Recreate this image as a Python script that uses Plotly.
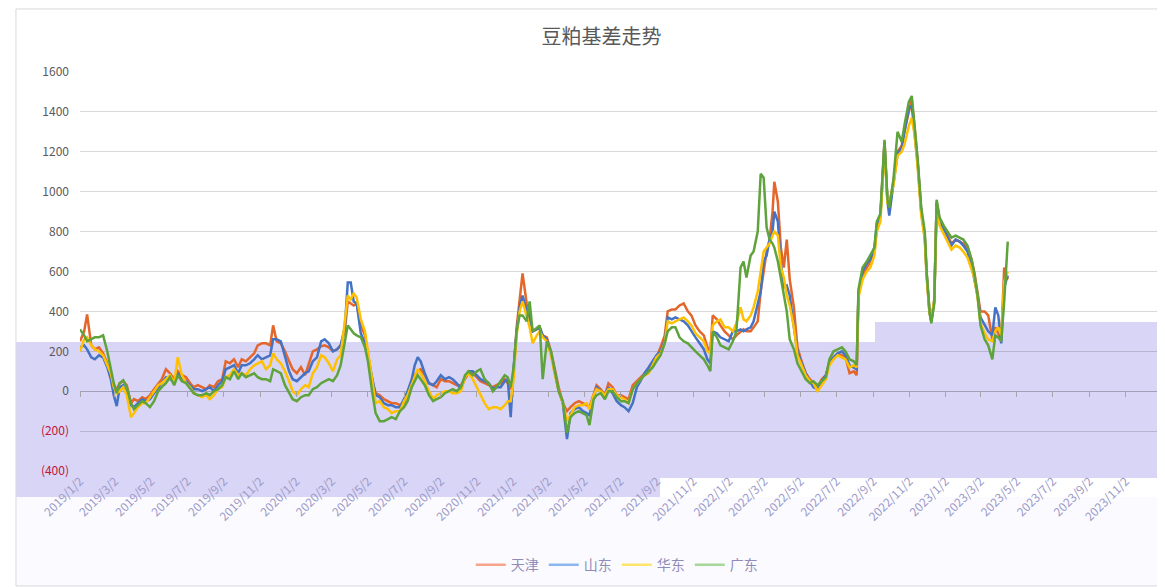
import pandas as pd
import plotly.graph_objects as go

# trading-day offsets from 2019/1/2 and basis values (yuan/ton)
start = pd.Timestamp("2019-01-02")
day_offsets = [
    0, 7, 12, 19, 25, 32, 39, 46, 52, 57, 62, 67, 73, 79, 86, 91, 98, 105, 111, 118,
    125, 132, 138, 145, 152, 159, 165, 172, 179, 186, 192, 199, 206, 213, 219, 226, 233, 240, 246, 253,
    260, 267, 273, 280, 287, 294, 300, 307, 314, 321, 326, 332, 339, 346, 353, 359, 366, 373, 380, 386,
    393, 400, 407, 413, 420, 427, 434, 440, 447, 452, 457, 462, 467, 474, 481, 486, 493, 499, 506, 513,
    520, 526, 533, 540, 547, 553, 560, 565, 570, 575, 582, 589, 596, 602, 609, 616, 623, 629, 636, 643,
    650, 656, 663, 670, 676, 683, 690, 697, 703, 710, 717, 722, 727, 732, 737, 742, 747, 754, 759, 764,
    771, 776, 781, 788, 795, 801, 808, 815, 822, 828, 835, 842, 849, 855, 860, 867, 872, 879, 886, 892,
    899, 906, 913, 919, 926, 933, 940, 946, 953, 960, 967, 973, 980, 987, 992, 999, 1005, 1012, 1019, 1026,
    1032, 1039, 1046, 1053, 1059, 1064, 1068, 1075, 1081, 1088, 1095, 1102, 1108, 1115, 1120, 1125, 1132, 1137, 1144, 1149,
    1154, 1159, 1164, 1169, 1172, 1178, 1183, 1188, 1193, 1198, 1205, 1211, 1218, 1225, 1232, 1238, 1245, 1252, 1259, 1265,
    1272, 1279, 1286, 1292, 1299, 1306, 1311, 1314, 1321, 1328, 1334, 1341, 1345, 1351, 1358, 1363, 1366, 1373, 1380, 1387,
    1392, 1399, 1404, 1409, 1414, 1420, 1426, 1429, 1434, 1437, 1442, 1446, 1451, 1458, 1464, 1471, 1478, 1485, 1491, 1498,
    1505, 1510, 1515, 1520, 1527, 1533, 1540, 1545, 1550, 1555, 1560, 1566,
]

tianjin = [
    250, 300, 385, 230, 210, 220, 190, 140, 80, 30, 10, 40, 50, 30, -60, -40, -50, -30, -40, -20,
    10, 40, 60, 110, 90, 60, 100, 80, 70, 40, 20, 30, 20, 10, 30, 20, 50, 60, 150, 140,
    160, 120, 160, 150, 170, 190, 230, 240, 240, 230, 330, 250, 240, 200, 150, 110, 90, 120, 80, 140,
    200, 210, 225, 230, 220, 200, 210, 230, 300, 450, 440, 430, 440, 330, 280, 180, 60, -10, -20, -40,
    -50, -60, -60, -70, -60, -20, 40, 80, 100, 110, 80, 40, 30, 20, 60, 50, 50, 40, 30, 30,
    60, 90, 90, 70, 50, 40, 30, 20, 30, 40, 60, 40, 10, 100, 320, 450, 590, 440, 360, 300,
    310, 320, 280, 270, 200, 110, 20, -60, -100, -80, -60, -50, -60, -70, -80, -10, 30, 10, -20, 40,
    20, -20, -20, -30, -40, 30, 50, 70, 90, 110, 140, 170, 220, 280, 400, 410, 410, 430, 440, 400,
    380, 330, 300, 280, 220, 200, 380, 360, 330, 300, 280, 260, 280, 300, 310, 300, 300, 320, 350, 500,
    600, 700, 760, 900, 1050, 950, 720, 620, 760, 560, 420, 220, 150, 90, 60, 40, 20, 60, 80, 150,
    170, 190, 180, 170, 90, 100, 80, 480, 580, 620, 650, 700, 820, 880, 1250, 950, 920, 1050, 1200, 1230,
    1310, 1400, 1460, 1320, 1150, 900, 780, 600, 400, 350, 450, 950, 860, 820, 780, 740, 760, 750, 740, 720,
    660, 590, 500, 400, 400, 380, 260, 320, 290, 260, 620, 560,
]

shandong = [
    220, 230, 210, 170, 160, 180, 170, 120, 60, -20, -75, 20, 30, -10, -70, -80, -60, -40, -50, -40,
    -10, 20, 40, 70, 60, 50, 90, 60, 50, 30, 10, 10, 0, 10, 20, 0, 30, 50, 110, 120,
    130, 90, 130, 130, 140, 160, 180, 160, 170, 180, 260, 260, 250, 170, 100, 60, 50, 70, 90, 100,
    150, 170, 250, 260, 240, 200, 210, 230, 320, 545, 545, 450, 440, 290, 240, 170, 60, -20, -30, -60,
    -70, -70, -80, -80, -40, 0, 60, 130, 170, 150, 90, 40, 30, 50, 80, 60, 70, 60, 40, 10,
    70, 100, 100, 80, 60, 50, 40, 10, 20, 20, 50, 60, -130, 120, 300, 420, 480, 400, 380, 300,
    310, 320, 280, 260, 190, 100, 0, -60, -240, -110, -90, -80, -100, -110, -120, -30, 20, 0, -30, 20,
    -10, -50, -70, -80, -100, -60, 20, 50, 90, 120, 150, 180, 200, 250, 370, 360, 370, 360, 350, 330,
    300, 270, 240, 210, 160, 140, 300, 290, 270, 260, 250, 300, 300, 310, 300, 310, 320, 350, 430, 500,
    650, 680, 760, 800, 900, 850, 640, 520, 530, 480, 320, 200, 140, 90, 50, 20, 10, 50, 80, 140,
    170, 190, 200, 180, 130, 120, 110, 490, 600, 640, 660, 720, 840, 870, 1240, 950, 880, 1040, 1190, 1220,
    1300, 1420, 1430, 1300, 1140, 900, 770, 590, 390, 350, 460, 940, 850, 810, 770, 730, 760, 750, 730, 700,
    630, 560, 480, 370, 330, 300, 280, 420, 380, 240, 520, 580,
]

huadong = [
    200, 260, 270, 230, 210, 200, 180, 130, 90, 20, -10, 0, 20, -20, -130, -110, -80, -60, -60, -30,
    0, 30, 40, 60, 80, 40, 170, 80, 40, 20, -10, -20, -30, -20, -40, -20, 10, 20, 70, 80,
    110, 80, 90, 80, 110, 130, 140, 150, 110, 130, 190, 160, 140, 100, 50, 0, -20, 10, 30, 20,
    90, 120, 180, 170, 140, 100, 160, 180, 350, 480, 460, 490, 470, 360, 300, 190, 60, -60, -50, -80,
    -90, -110, -100, -100, -50, -20, 30, 70, 110, 90, 50, 0, -40, -20, -10, 0, 0, -10, -10, 0,
    70, 90, 60, 20, -20, -60, -90, -80, -80, -90, -70, -50, -50, 60, 280, 400, 450, 380, 320, 240,
    280, 300, 270, 250, 180, 90, 0, -60, -150, -120, -80, -70, -70, -60, -90, -20, 10, 0, -20, 10,
    10, -20, -30, -40, -60, 10, 40, 60, 80, 90, 130, 170, 190, 240, 350, 340, 350, 360, 370, 350,
    330, 290, 270, 250, 200, 190, 330, 350, 360, 320, 320, 300, 340, 420, 360, 350, 380, 420, 500, 600,
    700, 720, 740, 780, 800, 780, 620, 570, 480, 430, 320, 180, 130, 80, 50, 40, 0, 30, 60, 130,
    160, 180, 170, 160, 120, 130, 120, 470, 560, 600, 620, 680, 800, 850, 1220, 940, 950, 1030, 1180, 1200,
    1240, 1330, 1370, 1280, 1120, 880, 760, 570, 390, 360, 460, 930, 830, 790, 750, 710, 730, 720, 700, 670,
    610, 560, 470, 340, 290, 260, 250, 300, 320, 280, 550, 600,
]

guangdong = [
    310, 280, 250, 260, 270, 270, 280, 200, 110, 40, -10, 40, 55, 20, -60, -90, -70, -50, -60, -80,
    -50, 0, 20, 40, 70, 30, 80, 50, 40, 10, -10, -20, -20, -10, -20, 0, 10, 30, 70, 60,
    100, 60, 90, 70, 80, 90, 70, 60, 60, 50, 110, 100, 90, 30, -10, -40, -50, -30, -20, -20,
    10, 20, 40, 50, 60, 50, 80, 130, 260, 330, 310, 290, 280, 270, 220, 150, 0, -110, -150, -150,
    -140, -130, -140, -100, -80, -50, 20, 50, 80, 60, 30, -20, -50, -40, -30, -10, 0, 10, 0, 20,
    80, 100, 80, 100, 110, 60, 40, 0, 20, 50, 80, 70, 20, 120, 300, 380, 380, 350, 450, 300,
    320, 330, 60, 250, 200, 100, 0, -50, -210, -130, -110, -100, -110, -120, -170, -40, -20, -10, -40, 0,
    0, -30, -50, -50, -60, 10, 40, 60, 80, 100, 120, 150, 180, 240, 300, 320, 320, 270, 250, 240,
    220, 200, 180, 160, 130, 100, 300, 270, 230, 220, 210, 250, 300, 620, 650, 570, 680, 700, 800, 1090,
    1070, 820, 760, 740, 720, 650, 560, 470, 400, 260, 210, 140, 100, 60, 40, 50, 30, 50, 70, 160,
    200, 210, 220, 200, 160, 150, 130, 510, 620, 650, 680, 720, 850, 890, 1260, 960, 920, 1060, 1300, 1250,
    1340, 1450, 1480, 1330, 1160, 920, 800, 600, 400, 340, 440, 960, 870, 830, 800, 770, 780, 770, 760, 730,
    660, 580, 480, 330, 260, 230, 160, 280, 270, 250, 450, 750,
]

series_names = ["天津", "山东", "华东", "广东"]
series_values = [tianjin, shandong, huadong, guangdong]
line_colors = ["#E4662B", "#4472C4", "#FFC000", "#5FA33C"]
legend_colors = ["#F7A48C", "#8DB6F0", "#FFE46E", "#A9D69B"]

y_ticks = [-400, -200, 0, 200, 400, 600, 800, 1000, 1200, 1400, 1600]
y_labels = ['<span style="color:#C0143C">(400)</span>', '<span style="color:#C0143C">(200)</span>',
            "0", "200", "400", "600", "800", "1000", "1200", "1400", "1600"]

dates = start + pd.to_timedelta(day_offsets, unit="D")
x_ticks = [start + pd.DateOffset(months=2 * i) for i in range(30)]
x_labels = [f"{d.year}/{d.month}/{d.day}" for d in x_ticks]
x_end = pd.Timestamp("2023-12-30")

fig = go.Figure()
for name, vals, col in zip(series_names, series_values, line_colors):
    fig.add_trace(go.Scatter(x=dates, y=vals, mode="lines", name=name,
                             line=dict(color=col, width=2.5), showlegend=False))

# legend entries (the legend swatches look washed out in the original)
for name, col in zip(series_names, legend_colors):
    fig.add_trace(go.Scatter(x=[None], y=[None], mode="lines", name=name,
                             line=dict(color=col, width=2.5)))

# invisible trace so the tick-mark axis on the zero line gets drawn
fig.add_trace(go.Scatter(x=[start, x_end], y=[None, None], xaxis="x2", mode="lines",
                         showlegend=False, hoverinfo="skip"))

lav = "#D9D5F6"
shapes = [
    dict(type="rect", xref="paper", yref="paper", x0=-0.0593, x1=0.537, y0=-0.0652, y1=0.3233,
         fillcolor=lav, line_width=0, layer="below"),
    dict(type="rect", xref="paper", yref="paper", x0=0.537, x1=0.7361, y0=-0.0175, y1=0.3233,
         fillcolor=lav, line_width=0, layer="below"),
    dict(type="rect", xref="paper", yref="paper", x0=0.7361, x1=1.0046, y0=-0.0175, y1=0.3734,
         fillcolor=lav, line_width=0, layer="below"),
    dict(type="rect", xref="paper", yref="paper", x0=-0.0593, x1=1.0046, y0=-0.2907, y1=-0.0652,
         fillcolor="#FBFAFF", line_width=0, layer="below"),
    dict(type="rect", xref="paper", yref="paper", x0=-0.0593, x1=1.0037, y0=-0.288, y1=1.158,
         line=dict(color="#D9D9D9", width=1), layer="below"),
]

fig.update_layout(
    width=1157, height=579,
    margin=dict(l=72, r=5, t=64, b=116),
    paper_bgcolor="white", plot_bgcolor="rgba(0,0,0,0)",
    font=dict(family="Noto Sans CJK SC, Noto Sans", size=12, color="#595959"),
    title=dict(text="豆粕基差走势", x=0.513, xanchor="center", y=0.95, yanchor="middle",
               font=dict(size=20, color="#595959")),
    xaxis=dict(type="date", range=[start, x_end],
               tickvals=x_ticks, ticktext=x_labels, tickangle=-45,
               showgrid=False, showline=False, zeroline=False, ticks="",
               tickfont=dict(size=12, color="#9C9BC9")),
    xaxis2=dict(type="date", range=[start, x_end], overlaying="x", anchor="free", position=0.2,
                tickvals=x_ticks, showticklabels=False, ticks="outside", ticklen=5,
                tickcolor="#A6A6A6", showline=False, showgrid=False, zeroline=False),
    yaxis=dict(range=[-400, 1600], tickvals=y_ticks, ticktext=y_labels,
               showgrid=True, gridcolor="rgba(0,0,0,0.15)", gridwidth=1,
               zeroline=True, zerolinecolor="rgba(0,0,0,0.25)", zerolinewidth=1,
               showline=False, ticks="", ticklabelstandoff=10,
               tickfont=dict(size=12, color="#595959")),
    legend=dict(orientation="h", x=0.497, xanchor="center", y=-0.236, yanchor="middle",
                font=dict(size=14, color="#8F8DB8"), itemwidth=30, bgcolor="rgba(0,0,0,0)"),
    shapes=shapes,
    showlegend=True,
)

fig.write_html("out.html")
